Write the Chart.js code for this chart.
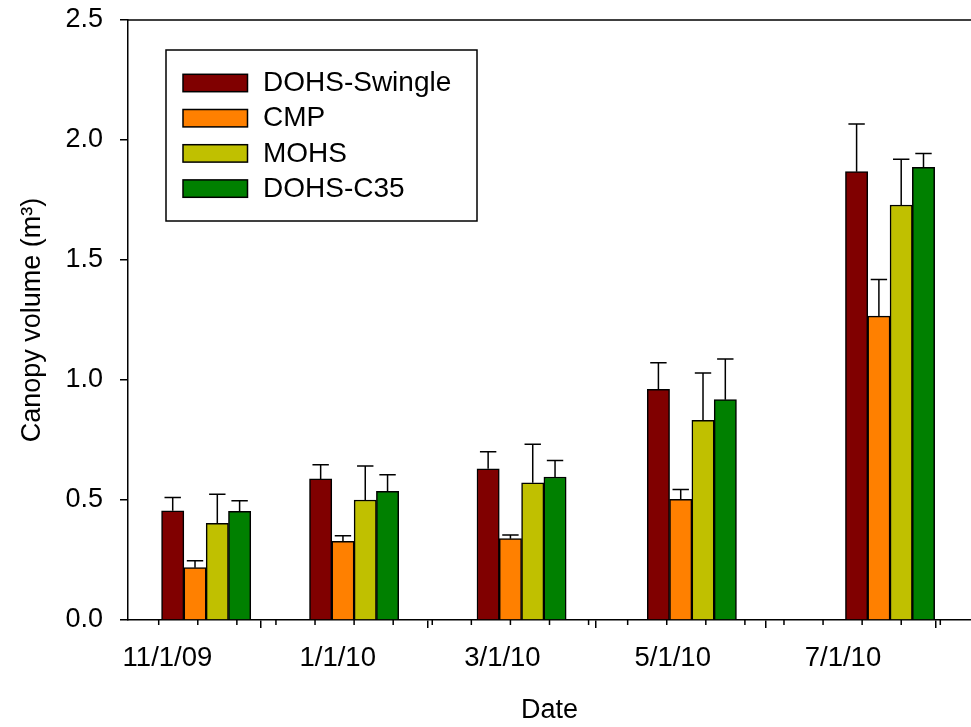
<!DOCTYPE html>
<html>
<head>
<meta charset="utf-8">
<script src="https://cdn.jsdelivr.net/npm/chart.js@4.4.1/dist/chart.umd.min.js"></script>
<style>
html,body{margin:0;padding:0;background:#fff;}
canvas{display:block;}
</style>
</head>
<body>
<canvas id="c" width="971" height="727"></canvas>
<script>
// ---- data ----
const measureDates = ['2009-11-12', '2010-01-04', '2010-03-05', '2010-05-05', '2010-07-15'];
const seriesNames = ['DOHS-Swingle', 'CMP', 'MOHS', 'DOHS-C35'];
const swingle    = [0.455, 0.588, 0.630, 0.961, 1.868];
const swingleErr = [0.055, 0.059, 0.071, 0.111, 0.199];
const cmp        = [0.218, 0.328, 0.339, 0.503, 1.266];
const cmpErr     = [0.029, 0.023, 0.015, 0.041, 0.153];
const mohs       = [0.403, 0.500, 0.572, 0.832, 1.729];
const mohsErr    = [0.121, 0.142, 0.160, 0.197, 0.191];
const c35        = [0.453, 0.536, 0.596, 0.918, 1.886];
const c35Err     = [0.044, 0.069, 0.069, 0.170, 0.058];
const seriesColors = ['#800000', '#FF8000', '#C0C000', '#008000'];
const tickDates  = ['2009-11-01', '2010-01-01', '2010-03-01', '2010-05-01', '2010-07-01'];
const tickLabels = ['11/1/09', '1/1/10', '3/1/10', '5/1/10', '7/1/10'];
const axisStart = '2009-10-15';
const axisEnd   = '2010-08-13';
const minorStart = '2009-10-26';
const minorStepDays = 14;
const yTitle = 'Canopy volume (m³)';
const xTitle = 'Date';

const ORIGIN = Date.parse('2009-11-01T00:00:00Z');
function dayNum(s) { return (Date.parse(s + 'T00:00:00Z') - ORIGIN) / 86400000; }

const values = [swingle, cmp, mohs, c35];
const errors = [swingleErr, cmpErr, mohsErr, c35Err];

const FONT = "'Liberation Sans', Arial, Helvetica, sans-serif";

const datasets = seriesNames.map((name, i) => ({
  label: name,
  data: measureDates.map((d, j) => ({ x: dayNum(d), y: values[i][j] })),
  errs: errors[i],
  backgroundColor: seriesColors[i],
  borderColor: '#000',
  borderWidth: 1.5,
  barThickness: 22.3,
  grouped: true
}));

const tickDays = tickDates.map(dayNum);

const errorBarPlugin = {
  id: 'errorBars',
  afterDatasetsDraw(chart) {
    const ctx = chart.ctx;
    const ys = chart.scales.y;
    ctx.save();
    ctx.strokeStyle = '#000';
    ctx.lineWidth = 1.5;
    chart.data.datasets.forEach((ds, i) => {
      const meta = chart.getDatasetMeta(i);
      meta.data.forEach((el, j) => {
        const v = ds.data[j].y;
        const e = ds.errs[j];
        const yTop = ys.getPixelForValue(v + e);
        const x = el.x;
        ctx.beginPath();
        ctx.moveTo(x, el.y);
        ctx.lineTo(x, yTop);
        ctx.moveTo(x - 8.2, yTop);
        ctx.lineTo(x + 8.2, yTop);
        ctx.stroke();
      });
    });
    ctx.restore();
  }
};

const framePlugin = {
  id: 'frame',
  afterDraw(chart) {
    const ctx = chart.ctx;
    const a = chart.chartArea;
    const xs = chart.scales.x;
    ctx.save();
    ctx.strokeStyle = '#000';
    ctx.lineWidth = 1.5;
    // top frame line
    ctx.beginPath();
    ctx.moveTo(a.left - 0.75, a.top);
    ctx.lineTo(a.right, a.top);
    ctx.stroke();
    // minor ticks on x axis
    const start = dayNum(minorStart);
    const end = dayNum(axisEnd);
    ctx.beginPath();
    for (let d = start; d <= end; d += minorStepDays) {
      const px = xs.getPixelForValue(d);
      ctx.moveTo(px, a.bottom);
      ctx.lineTo(px, a.bottom + 5);
    }
    ctx.stroke();
    // legend
    const L = 166, T = 50, R = 477, B = 221;
    ctx.strokeRect(L, T, R - L, B - T);
    ctx.font = '28px ' + FONT;
    ctx.textBaseline = 'middle';
    ctx.textAlign = 'left';
    chart.data.datasets.forEach((ds, i) => {
      const cy = 83 + i * 35.2;
      ctx.fillStyle = ds.backgroundColor;
      ctx.fillRect(183, cy - 8.7, 64.5, 17.4);
      ctx.strokeRect(183, cy - 8.7, 64.5, 17.4);
      ctx.fillStyle = '#000';
      ctx.fillText(ds.label, 263, cy + 0.5);
    });
    ctx.restore();
  }
};

function zeroPad(scale) {
  scale.paddingTop = 0; scale.paddingBottom = 0;
  scale.paddingLeft = 0; scale.paddingRight = 0;
}

new Chart(document.getElementById('c'), {
  type: 'bar',
  data: { datasets },
  options: {
    responsive: false,
    devicePixelRatio: 1,
    animation: false,
    layout: { padding: { left: 0, top: 20, right: 0, bottom: 0 } },
    plugins: { legend: { display: false }, tooltip: { enabled: false } },
    scales: {
      x: {
        type: 'linear',
        min: dayNum(axisStart),
        max: dayNum(axisEnd),
        offset: false,
        afterBuildTicks(scale) { scale.ticks = tickDays.map(v => ({ value: v })); },
        afterFit(scale) { scale.height = 107; zeroPad(scale); },
        ticks: {
          autoSkip: false,
          maxRotation: 0,
          minRotation: 0,
          color: '#000',
          padding: 14,
          labelOffset: -8,
          font: { family: FONT, size: 27.5 },
          callback(v) { const k = tickDays.indexOf(v); return k >= 0 ? tickLabels[k] : ''; }
        },
        grid: { display: true, drawOnChartArea: false, drawTicks: true, tickLength: 8, tickColor: '#000', tickWidth: 1.5, color: '#000', lineWidth: 1.5 },
        border: { display: true, color: '#000', width: 1.5 },
        title: { display: true, text: xTitle, color: '#000', font: { family: FONT, size: 27 }, padding: { top: 0, bottom: 0 } }
      },
      y: {
        type: 'linear',
        min: 0,
        max: 2.5,
        afterFit(scale) { scale.width = 128; zeroPad(scale); },
        ticks: {
          stepSize: 0.5,
          color: '#000',
          padding: 17,
          font: { family: FONT, size: 27 },
          callback(v) { return Number(v).toFixed(1); }
        },
        grid: { display: true, drawOnChartArea: false, drawTicks: true, tickLength: 8, tickColor: '#000', tickWidth: 1.5, color: '#000', lineWidth: 1.5 },
        border: { display: true, color: '#000', width: 1.5 },
        title: { display: true, text: yTitle, color: '#000', font: { family: FONT, size: 27 }, padding: { top: 16, bottom: 0 } }
      }
    }
  },
  plugins: [errorBarPlugin, framePlugin]
});
</script>
</body>
</html>
